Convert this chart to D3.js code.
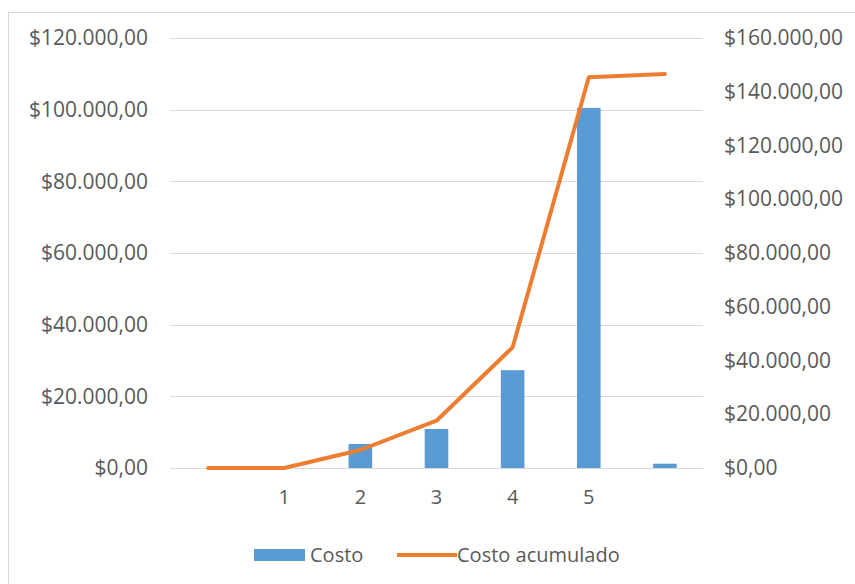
<!DOCTYPE html>
<html>
<head>
<meta charset="utf-8">
<script src="https://cdn.jsdelivr.net/npm/d3@7"></script>
<style>
  body { margin: 0; background: #fff; }
  text { font-family: "Open Sans", sans-serif; fill: #595959; }
</style>
</head>
<body>
<svg width="855" height="584"></svg>
<script>
let width = 855,
    height = 584;

// categories (first and last are unlabelled in the original)
let categories = ["", "1", "2", "3", "4", "5", " "];
let costo = [0, 0, 6700, 10900, 27300, 100500, 1200];
let acumulado = [0, 0, 6700, 17600, 44900, 145400, 146600];
let leftTicks = [0, 20000, 40000, 60000, 80000, 100000, 120000];
let rightTicks = [0, 20000, 40000, 60000, 80000, 100000, 120000, 140000, 160000];

let margin = {left: 170, right: 152, top: 38, bottom: 116};

let fmt = (v) => "$" + d3.format(",.2f")(v).replace(/,/g, "#").replace(/\./g, ",").replace(/#/g, ".");

let svg = d3.select("svg");

// chart border
svg.append("rect")
  .attr("x", 8.5).attr("y", 12.5)
  .attr("width", 900).attr("height", 700)
  .attr("fill", "none")
  .attr("stroke", "#d9d9d9");

let x = d3.scaleBand()
  .domain(d3.range(categories.length))
  .range([margin.left, width - margin.right])
  .paddingInner(0.69)
  .paddingOuter(0.345);

let xc = d3.scalePoint()
  .domain(d3.range(categories.length))
  .range([margin.left, width - margin.right])
  .padding(0.5);

let yL = d3.scaleLinear().domain([0, 120000]).range([height - margin.bottom, margin.top]);
let yR = d3.scaleLinear().domain([0, 160000]).range([height - margin.bottom, margin.top]);

// gridlines
svg.append("g")
  .selectAll("line")
  .data(leftTicks)
  .enter().append("line")
    .attr("x1", margin.left)
    .attr("x2", width - margin.right)
    .attr("y1", d => Math.round(yL(d)) + 0.5)
    .attr("y2", d => Math.round(yL(d)) + 0.5)
    .attr("stroke", "#d9d9d9")
    .attr("stroke-width", 1.2);

// left axis
let axL = svg.append("g")
  .attr("transform", "translate(" + (margin.left - 22) + ",0)")
  .call(d3.axisLeft(yL).tickValues(leftTicks).tickFormat(fmt).tickSize(0).tickPadding(0));
axL.select(".domain").remove();
axL.selectAll("text")
  .attr("font-size", 21)
  .attr("font-family", "Open Sans, sans-serif")
  .style("fill", "#595959");

// right axis
let axR = svg.append("g")
  .attr("transform", "translate(" + (width - margin.right + 21) + ",0)")
  .call(d3.axisRight(yR).tickValues(rightTicks).tickFormat(fmt).tickSize(0).tickPadding(0));
axR.select(".domain").remove();
axR.selectAll("text")
  .attr("font-size", 21)
  .attr("font-family", "Open Sans, sans-serif")
  .style("fill", "#595959");

// bars
svg.append("g")
  .selectAll("rect")
  .data(costo)
  .enter().append("rect")
    .attr("x", (d, i) => x(i))
    .attr("width", x.bandwidth())
    .attr("y", d => yL(d))
    .attr("height", d => yL(0) - yL(d))
    .attr("fill", "#5b9bd5");

// cumulative line
let line = d3.line()
  .x((d, i) => xc(i))
  .y(d => yR(d));

svg.append("path")
  .datum(acumulado)
  .attr("d", line)
  .attr("fill", "none")
  .attr("stroke", "#ed7d31")
  .attr("stroke-width", 4)
  .attr("stroke-linejoin", "round")
  .attr("stroke-linecap", "round");

// category labels
svg.append("g")
  .selectAll("text")
  .data(categories)
  .enter().append("text")
    .attr("x", (d, i) => xc(i))
    .attr("y", height - margin.bottom + 36)
    .attr("text-anchor", "middle")
    .attr("font-size", 20)
    .text(d => d.trim());

// legend
let legend = svg.append("g");
legend.append("rect")
  .attr("x", 254).attr("y", 549)
  .attr("width", 51).attr("height", 12)
  .attr("fill", "#5b9bd5");
legend.append("text")
  .attr("x", 310).attr("y", 562)
  .attr("font-size", 20)
  .text("Costo");
legend.append("line")
  .attr("x1", 397).attr("x2", 457)
  .attr("y1", 555).attr("y2", 555)
  .attr("stroke", "#ed7d31")
  .attr("stroke-width", 4);
legend.append("text")
  .attr("x", 457).attr("y", 562)
  .attr("font-size", 20)
  .text("Costo acumulado");
</script>
</body>
</html>
